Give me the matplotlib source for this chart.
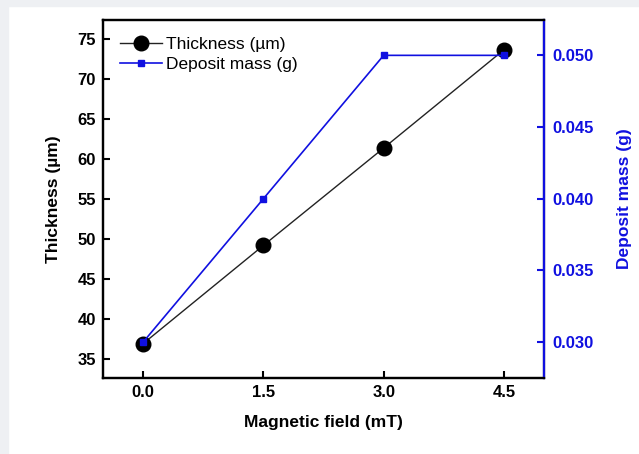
import matplotlib
matplotlib.use("Agg")
from matplotlib import pyplot as plt
from matplotlib.patches import Rectangle

field = [0.0, 1.5, 3.0, 4.5]
thickness = [36.9, 49.2, 61.4, 73.7]
deposit_mass = [0.030, 0.040, 0.050, 0.050]
x_ticks = [0.0, 1.5, 3.0, 4.5]
thick_ticks = [35, 40, 45, 50, 55, 60, 65, 70, 75]
mass_ticks = [0.030, 0.035, 0.040, 0.045, 0.050]

plt.rcParams['font.family'] = ['Liberation Sans', 'DejaVu Sans']
blue = '#1010e0'

fig = plt.figure(figsize=(6.39, 4.54), dpi=100)
# light grey page edge on top and left
fig.patches.append(Rectangle((0, 1 - 6 / 454), 1, 6 / 454, transform=fig.transFigure,
                             color='#eef0f3', zorder=0))
fig.patches.append(Rectangle((0, 0), 8 / 639, 1, transform=fig.transFigure,
                             color='#eef0f3', zorder=0))

ax = fig.add_axes([103 / 639, 76 / 454, 441 / 639, 358.5 / 454])
ax2 = ax.twinx()

l1, = ax.plot(field, thickness, '-o', color='#222222', lw=1, mfc='black', mec='black',
              ms=10.5, label='Thickness (µm)')
l2, = ax2.plot(field, deposit_mass, '-s', color=blue, lw=1.2, ms=4,
               label='Deposit mass (g)')

ax.set_xlim(-0.5, 5.0)
ax.set_ylim(32.6, 77.5)
ax2.set_ylim(0.0275, 0.0525)
ax.set_xticks(x_ticks)
ax.set_xticklabels(['%.1f' % v for v in x_ticks])
ax.set_yticks(thick_ticks)
ax2.set_yticks(mass_ticks)
ax2.set_yticklabels(['%.3f' % v for v in mass_ticks])

for a in (ax, ax2):
    for s in a.spines.values():
        s.set_linewidth(1.6)
ax2.spines['right'].set_color(blue)

ax.tick_params(direction='in', length=5, width=1.5, labelsize=12, pad=5)
ax2.tick_params(axis='y', direction='in', length=5, width=1.5, labelsize=12, pad=6,
                colors=blue)
for lab in ax.get_xticklabels() + ax.get_yticklabels() + ax2.get_yticklabels():
    lab.set_fontweight('bold')

ax.set_xlabel('Magnetic field (mT)', fontsize=12.5, fontweight='bold', labelpad=11)
ax.set_ylabel('Thickness (µm)', fontsize=12.5, fontweight='bold', labelpad=12)
ax2.set_ylabel('Deposit mass (g)', fontsize=12.5, fontweight='bold', color=blue,
               labelpad=17)

ax2.legend([l1, l2], [l1.get_label(), l2.get_label()], loc='upper left', frameon=False,
           fontsize=12.5, handlelength=2.4, handletextpad=0.25, labelspacing=0.3,
           borderaxespad=0.6)

fig.savefig('out.png', dpi=100)
